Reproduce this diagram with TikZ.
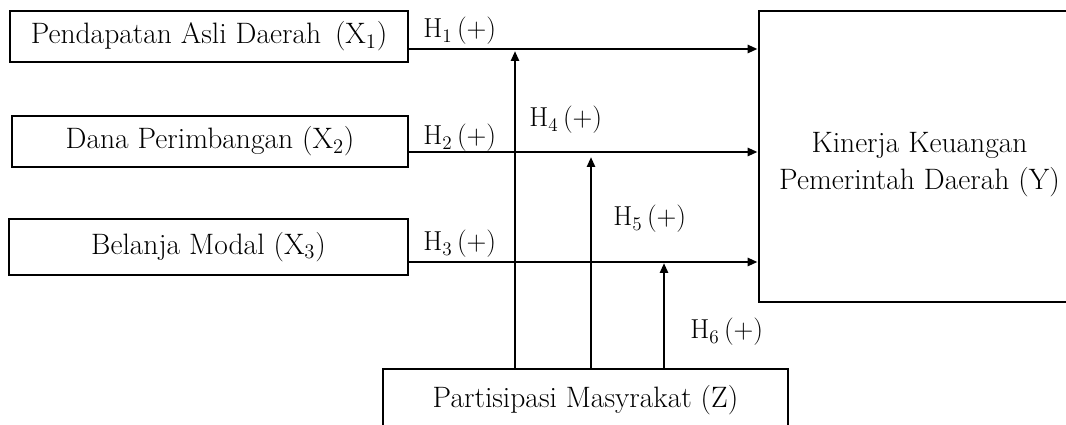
\documentclass[tikz,border=0pt]{standalone}
\usetikzlibrary{arrows.meta}

\begin{document}
\begin{tikzpicture}[x=0.025cm,y=-0.025cm,line width=1.9pt,
    box/.style={draw,inner sep=0pt,font=\fontsize{21}{25}\selectfont},
    hyp/.style={anchor=base west,inner sep=0pt,font=\fontsize{19.5}{23}\selectfont},
    arr/.style={-{Triangle[length=0.25cm,width=0.2cm]}}]
    \clip (0,0) rectangle (1066,425);
    \node[box,minimum width=9.95cm,minimum height=1.275cm] (x1) at (209,36.5) {Pendapatan Asli Daerah\, (X\textsubscript{1})};
    \node[box,minimum width=9.9cm,minimum height=1.275cm] (x2) at (210,141.5) {Dana Perimbangan (X\textsubscript{2})};
    \node[box,minimum width=9.975cm,minimum height=1.4cm] (x3) at (208.5,247) {Belanja Modal (X\textsubscript{3})};
    \node[box,minimum width=8.025cm,minimum height=7.275cm] (y) at (919.5,156.5) {};
    \node[align=center,inner sep=0pt,font=\fontsize{21}{26.3}\selectfont] (ytext) at (919.5,165) {Kinerja Keuangan\\Pemerintah Daerah (Y)};
    \node[box,minimum width=10.125cm,minimum height=1.55cm] (z) at (585.5,400) {Partisipasi Masyrakat (Z)};
    \coordinate (l1) at (0,49);
    \coordinate (l2) at (0,152);
    \coordinate (l3) at (0,262);
    \coordinate (a1) at (515,51);
    \coordinate (a2) at (591,157);
    \coordinate (a3) at (664,263);
    \draw[arr] (x1.east |- l1) -- (y.west |- l1);
    \draw[arr] (x2.east |- l2) -- (y.west |- l2);
    \draw[arr] (x3.east |- l3) -- (y.west |- l3);
    \draw[arr] (z.north -| a1) -- (a1);
    \draw[arr] (z.north -| a2) -- (a2);
    \draw[arr] (z.north -| a3) -- (a3);
    \node[hyp] (h1) at (422,38) {H\textsubscript{1}\,(+)};
    \node[hyp] (h2) at (422,145) {H\textsubscript{2}\,(+)};
    \node[hyp] (h3) at (422,251) {H\textsubscript{3}\,(+)};
    \node[hyp] (h4) at (528,127) {H\textsubscript{4}\,(+)};
    \node[hyp] (h5) at (612,226) {H\textsubscript{5}\,(+)};
    \node[hyp] (h6) at (689,339) {H\textsubscript{6}\,(+)};
\end{tikzpicture}
\end{document}
